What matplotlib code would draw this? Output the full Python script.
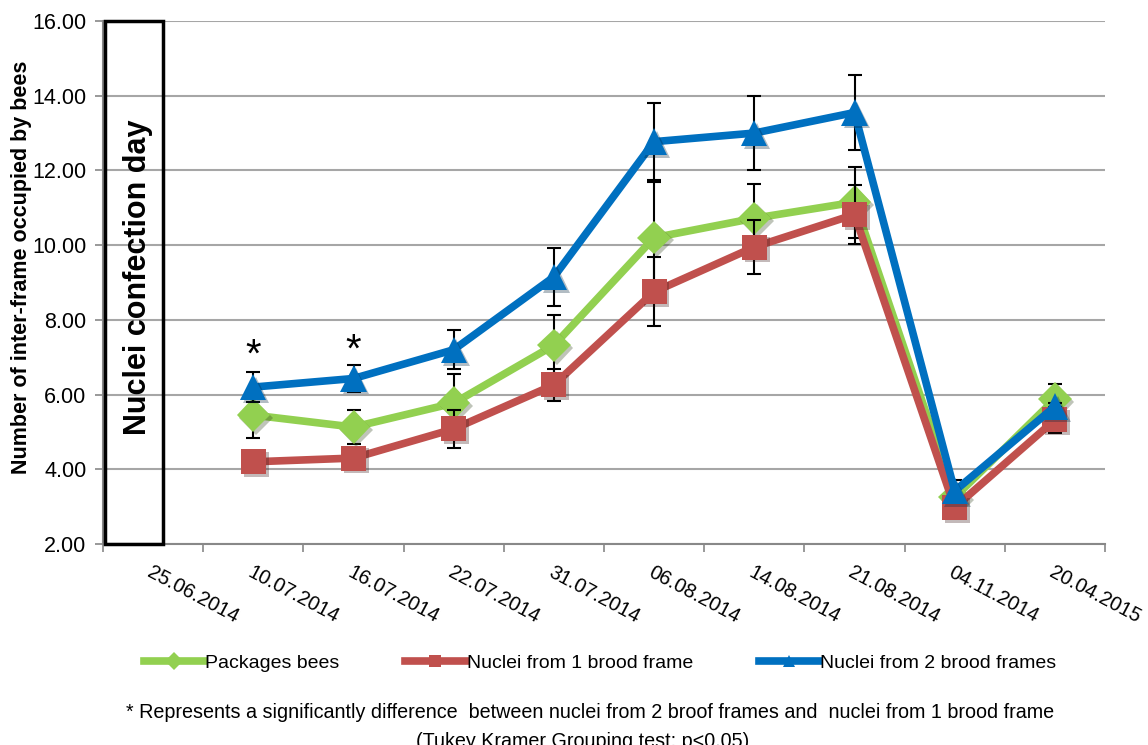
import numpy as np
import matplotlib
matplotlib.use("Agg")
import matplotlib.pyplot as plt
import matplotlib.patheffects as pe
from matplotlib.lines import Line2D
from matplotlib.patches import Rectangle

# sampling dates (first one = day the nuclei were made, no measurement)
dates = ['25.06.2014', '10.07.2014', '16.07.2014', '22.07.2014', '31.07.2014',
         '06.08.2014', '14.08.2014', '21.08.2014', '04.11.2014', '20.04.2015']

packages = [np.nan, 5.45, 5.13, 5.77, 7.32, 10.20, 10.72, 11.15, 3.25, 5.88]
packages_err = [np.nan, 0.60, 0.45, 0.78, 0.80, 1.50, 0.93, 0.95, 0.10, 0.40]
nuclei_1 = [np.nan, 4.20, 4.30, 5.08, 6.26, 8.75, 9.95, 10.82, 2.98, 5.32]
nuclei_1_err = [np.nan, 0.10, 0.10, 0.50, 0.43, 0.92, 0.72, 0.80, 0.10, 0.36]
nuclei_2 = [np.nan, 6.20, 6.43, 7.20, 9.15, 12.77, 13.00, 13.55, 3.42, 5.68]
nuclei_2_err = [np.nan, 0.40, 0.35, 0.52, 0.78, 1.03, 1.00, 1.00, 0.30, 0.10]

# significant differences (Tukey) marked with a star
star_idx = [1, 2]
star_y = [7.05, 7.18]

yticks = [2, 4, 6, 8, 10, 12, 14, 16]

GREEN = '#92D050'
RED = '#C0504D'
BLUE = '#0070C0'
plt.rcParams['font.family'] = ['Liberation Sans', 'DejaVu Sans']

fig = plt.figure(figsize=(11.48, 7.45), dpi=100)
ax = fig.add_axes([103 / 1148, 1 - 544 / 745, 1002 / 1148, 523 / 745])

x = np.arange(len(dates)) + 0.5
shadow = [pe.SimplePatchShadow(offset=(2, -2), alpha=0.3), pe.Normal()]

series = [
    (packages, packages_err, GREEN, 'D', 17, 'Packages bees'),
    (nuclei_1, nuclei_1_err, RED, 's', 18, 'Nuclei from 1 brood frame'),
    (nuclei_2, nuclei_2_err, BLUE, '^', 19, 'Nuclei from 2 brood frames'),
]
z = 3
for vals, err, col, mk, ms, lab in series:
    ax.errorbar(x, vals, yerr=err, fmt='none', ecolor='black', elinewidth=1.5,
                capsize=5, capthick=1.5, zorder=z)
    ax.plot(x, vals, color=col, lw=5.5, zorder=z + 1)
    # markers drawn on their own so the shadow only sits under them
    ax.plot(x, vals, ls='none', color=col, marker=mk, markersize=ms,
            markeredgewidth=0, zorder=z + 1.5, path_effects=shadow)
    z += 2

for i, yy in zip(star_idx, star_y):
    ax.text(x[i], yy, '*', ha='center', va='center', fontsize=29, zorder=10)

ax.set_xlim(0, len(dates))
ax.set_ylim(2, 16)
ax.set_yticks(yticks)
ax.set_yticklabels(['%.2f' % v for v in yticks], fontsize=15.5)
ax.set_xticks(np.arange(len(dates) + 1))
ax.set_xticklabels([])
ax.tick_params(axis='y', direction='out', length=6, width=1.2, color='#888888', pad=6)
ax.tick_params(axis='x', direction='out', length=6, width=1.2, color='#888888')
ax.grid(axis='y', color='#A6A6A6', lw=1.5)
ax.set_axisbelow(True)
for s in ['top', 'right']:
    ax.spines[s].set_visible(False)
for s in ['left', 'bottom']:
    ax.spines[s].set_color('#888888')
    ax.spines[s].set_linewidth(1.5)

# rotated date labels hanging from each category centre
for xi, lab in zip(x, dates):
    ax.text(xi, -0.035, lab, transform=ax.get_xaxis_transform(), rotation=-28,
            rotation_mode='anchor', ha='left', va='top', fontsize=14.5)

# box for the day the nuclei were made
ax.add_patch(Rectangle((0.002, 0), 0.058, 1, transform=ax.transAxes, fill=False,
                       ec='black', lw=2.5, zorder=6, clip_on=False))
ax.text(0.035, 0.51, 'Nuclei confection day', transform=ax.transAxes, rotation=90,
        ha='center', va='center', fontsize=22, fontweight='bold', zorder=7)

fig.text(22 / 1148, 1 - 267 / 745, 'Number of inter-frame occupied by bees',
         rotation=90, ha='center', va='center', fontsize=15.5, fontweight='bold')

handles = [Line2D([0], [0], color=c, lw=5.5, marker=m, markersize=9, markeredgewidth=0)
           for _, _, c, m, _, _ in series]
labels = [s[5] for s in series]
fig.legend(handles, labels, loc='center', bbox_to_anchor=(600 / 1148, 1 - 663 / 745),
           ncol=3, frameon=False, handlelength=3.1, handletextpad=0.05,
           columnspacing=3.4, prop={'size': 14})

fig.text(590 / 1148, 1 - 712 / 745,
         '* Represents a significantly difference  between nuclei from 2 broof frames and  nuclei from 1 brood frame',
         ha='center', va='center', fontsize=14.2)
fig.text(583 / 1148, 1 - 732 / 745, '(Tukey Kramer Grouping test; p<0.05)',
         ha='center', va='top', fontsize=14.2)

fig.savefig('out.png', dpi=100)
